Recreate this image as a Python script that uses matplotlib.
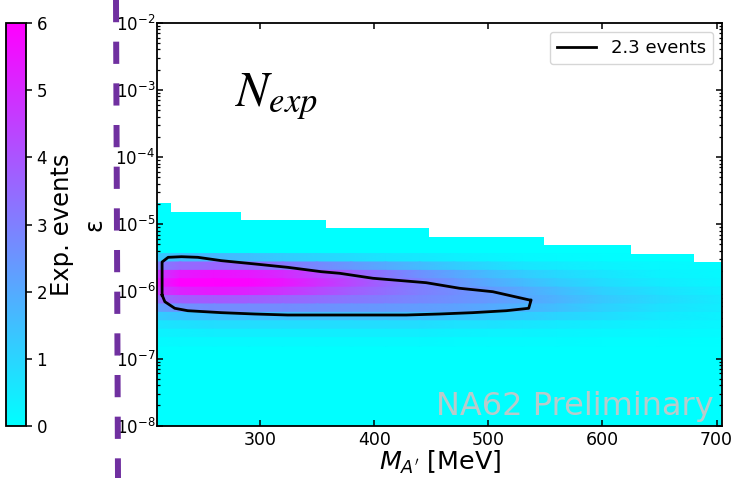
import numpy as np
import matplotlib
matplotlib.use("Agg")
import matplotlib.pyplot as plt
from matplotlib.lines import Line2D
from matplotlib.ticker import LogLocator, NullFormatter, FixedLocator

# ---------------- data ----------------
# extent of the scanned region (cyan area): column edges [MeV], top of each column (log10 eps)
scan_edges_mev = [210, 222, 283, 358, 448, 549, 625, 680, 705]
scan_top_log10eps = [-4.6875, -4.8125, -4.9375, -5.0625, -5.1875, -5.3125, -5.4375, -5.5625]

# expected-events map: mass nodes [MeV] and eps rows (log10 edges, top to bottom)
mass_nodes_mev = [210, 230, 260, 290, 320, 350, 380, 410, 440, 470, 500, 530, 560, 600, 650, 705]
row_edges_log10eps = [-5.4375, -5.5625, -5.6875, -5.8125, -5.9375, -6.0625,
                      -6.1875, -6.3125, -6.4375, -6.5625, -6.6875, -6.8125]
exp_events = [
    [1.2, 1.6, 1.7, 1.5, 1.2, 1.0, 0.8, 0.6, 0.5, 0.35, 0.25, 0.15, 0.1, 0.05, 0.0, 0.0],
    [3.0, 3.5, 3.6, 3.5, 3.2, 2.8, 2.4, 2.0, 1.6, 1.2, 0.9, 0.6, 0.45, 0.3, 0.15, 0.05],
    [4.6, 5.4, 5.6, 5.4, 5.0, 4.4, 3.8, 3.2, 2.6, 2.1, 1.6, 1.2, 0.9, 0.6, 0.3, 0.15],
    [5.2, 6.0, 6.0, 5.9, 5.5, 4.9, 4.3, 3.6, 3.0, 2.5, 2.0, 1.6, 1.2, 0.8, 0.45, 0.2],
    [4.6, 5.2, 5.4, 5.2, 4.8, 4.3, 3.8, 3.4, 3.0, 2.7, 2.4, 2.0, 1.6, 1.1, 0.7, 0.35],
    [3.4, 3.8, 3.9, 3.8, 3.6, 3.4, 3.2, 3.0, 2.8, 2.6, 2.4, 2.1, 1.8, 1.3, 0.85, 0.45],
    [2.2, 2.6, 2.7, 2.7, 2.7, 2.6, 2.5, 2.4, 2.3, 2.2, 2.0, 1.8, 1.5, 1.1, 0.7, 0.4],
    [1.2, 1.4, 1.5, 1.5, 1.5, 1.5, 1.5, 1.5, 1.5, 1.4, 1.3, 1.2, 1.0, 0.8, 0.5, 0.3],
    [0.6, 0.7, 0.8, 0.8, 0.8, 0.8, 0.8, 0.8, 0.8, 0.7, 0.7, 0.6, 0.5, 0.4, 0.3, 0.2],
    [0.3, 0.35, 0.4, 0.4, 0.4, 0.4, 0.4, 0.4, 0.4, 0.35, 0.3, 0.3, 0.25, 0.2, 0.15, 0.1],
    [0.1, 0.15, 0.15, 0.15, 0.15, 0.15, 0.15, 0.15, 0.15, 0.1, 0.1, 0.1, 0.1, 0.05, 0.05, 0.0],
]

# 2.3-event contour outline
contour_mass_mev = [214.2, 214.2, 219.5, 231.2, 245.5, 266.2, 295.4, 324.2, 353.7, 369.8,
                    398.9, 445.6, 474.8, 503.9, 536.0, 537.5, 535.4, 515.7, 486.4, 457.3,
                    428.1, 382.9, 324.2, 295.4, 266.2, 236.7, 225.3, 216.6, 214.2]
contour_log10eps = [-6.054, -5.563, -5.493, -5.484, -5.493, -5.543, -5.592, -5.642, -5.707, -5.731,
                    -5.805, -5.871, -5.954, -6.005, -6.128, -6.128, -6.252, -6.288, -6.317, -6.337,
                    -6.352, -6.352, -6.352, -6.337, -6.317, -6.288, -6.252, -6.154, -6.054]

x_ticks = [300, 400, 500, 600, 700]
cbar_ticks = [0, 1, 2, 3, 4, 5, 6]

# ---------------- figure ----------------
plt.rcParams["lines.scale_dashes"] = False
W, H = 731, 478
fig = plt.figure(figsize=(W / 100, H / 100), dpi=100)

ax = fig.add_axes([157.3 / W, 1 - 425.7 / H, (722.3 - 157.3) / W, (425.7 - 22.7) / H])
cax = fig.add_axes([6 / W, 1 - 426 / H, 20 / W, (426 - 23) / H])

cmap = plt.get_cmap("cool")

ax.set_yscale("log")
ax.set_xlim(210, 705)
ax.set_ylim(1e-8, 1e-2)

# cyan background of the scanned region
scan_top = np.power(10.0, scan_top_log10eps)
bg = ax.stairs(scan_top, scan_edges_mev, baseline=1e-8, fill=True,
               color=cmap(0.0), linewidth=0, zorder=1)

# expected events map (constant within an eps row, smooth along mass)
vals = np.asarray(exp_events)
redges = np.asarray(row_edges_log10eps)
ynodes = np.power(10.0, np.ravel(np.column_stack([redges[:-1], redges[1:]])))
cnodes = np.repeat(vals, 2, axis=0)
X, Y = np.meshgrid(mass_nodes_mev, ynodes)
mesh = ax.pcolormesh(X, Y, cnodes, shading="gouraud", cmap=cmap, vmin=0, vmax=6, zorder=2)
mesh.set_clip_path(bg)

# contour
ax.plot(contour_mass_mev, np.power(10.0, contour_log10eps), color="black", lw=2.0, zorder=4)

# axes styling
for s in ax.spines.values():
    s.set_linewidth(1.3)
ax.xaxis.set_major_locator(FixedLocator(x_ticks))
ax.yaxis.set_major_locator(LogLocator(base=10, numticks=20))
ax.yaxis.set_minor_locator(LogLocator(base=10, subs=np.arange(2, 10), numticks=100))
ax.yaxis.set_minor_formatter(NullFormatter())
ax.tick_params(which="both", direction="in", top=True, right=True)
ax.tick_params(which="major", length=4.5, width=1.1)
ax.tick_params(which="minor", length=2.5, width=0.9)
ax.tick_params(axis="x", labelsize=12.5, pad=3.5)
ax.tick_params(axis="y", labelsize=12, pad=1.5)

ax.set_xlabel(r"$M_{A'}$ [MeV]", fontsize=18.3)
ax.xaxis.set_label_coords(0.5, -0.058)
ax.set_ylabel("ε", fontsize=17)
ax.yaxis.set_label_coords(-0.09, 0.5)

leg = ax.legend(handles=[Line2D([], [], color="black", lw=2)], labels=["2.3 events"],
                loc="upper right", fontsize=13, handlelength=2.2)
leg.set_zorder(6)

ax.text(0.985, 0.0266, "NA62 Preliminary", transform=ax.transAxes, ha="right", va="baseline",
        fontsize=23, color="#c4c8c8", alpha=0.95, zorder=5)

fig.text(235 / W, 1 - 106.7 / H, r"$N_{exp}$", fontsize=35.5, math_fontfamily="stix",
         ha="left", va="baseline")

# colorbar
cb = fig.colorbar(mesh, cax=cax, ticks=cbar_ticks)
cb.outline.set_linewidth(1.3)
cax.tick_params(labelsize=12, length=4, width=1.1)
cb.set_label("Exp. events", fontsize=17.5)
cax.yaxis.set_label_coords(2.2, 0.5)

# purple dashed separator from the slide
fig.add_artist(Line2D([116 / W, 118 / W], [1.0, 0.0], transform=fig.transFigure,
                      color="#7030A0", lw=4.3, dashes=(16, 14), solid_capstyle="butt",
                      dash_capstyle="butt"))

fig.savefig("out.png", dpi=100)
